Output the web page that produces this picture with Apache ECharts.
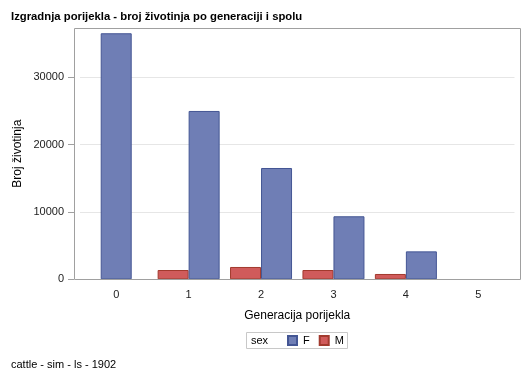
<!DOCTYPE html>
<html>
<head>
<meta charset="utf-8">
<title>Izgradnja porijekla</title>
<script src="https://cdn.jsdelivr.net/npm/echarts@6/dist/echarts.min.js"></script>
<style>
    html,body{margin:0;padding:0;background:#fff;}
    #genChart{width:529px;height:378px;}
</style>
</head>
<body>
<div id="genChart"></div>
<script>
// generacije porijekla i broj grla po spolu
var generacije = ['0', '1', '2', '3', '4', '5'];
var brojF = [36540, 25000, 16530, 9360, 4150, null];
var brojM = [null, 1380, 1830, 1380, 790, null];
var yTicks = [0, 10000, 20000, 30000];

// kad nema muskih grla zensku gredu crtamo na sredini kategorije
var fPar = brojF.map(function (v, i) { return brojM[i] == null ? null : v; });
var fSama = brojF.map(function (v, i) { return brojM[i] == null ? v : null; });

var myChart = echarts.init(document.getElementById('genChart'));
var option = {
    animation: false,
    textStyle: { fontFamily: 'Liberation Sans, Arial, sans-serif' },
    title: [
        {
            text: 'Izgradnja porijekla - broj životinja po generaciji i spolu',
            left: 6, top: 6,
            textStyle: { fontSize: 11.3, fontWeight: 'bold', color: '#000' }
        },
        {
            text: 'cattle - sim - ls - 1902',
            left: 6, top: 354,
            textStyle: { fontSize: 11, fontWeight: 'normal', color: '#000' }
        }
    ],
    legend: {
        data: ['F', 'M'],
        left: 287, top: 335,
        padding: 0,
        icon: 'rect',
        itemWidth: 9, itemHeight: 9,
        itemGap: 9,
        textStyle: { fontSize: 11, color: '#000', padding: [0, 0, 0, 1] }
    },
    grid: {
        left: 80, right: 14.5, top: 28, bottom: 98.7,
        containLabel: false,
        outerBoundsMode: 'none'
    },
    xAxis: [
        {
            type: 'category',
            data: generacije,
            name: 'Generacija porijekla',
            nameLocation: 'middle',
            nameGap: 30,
            nameTextStyle: { fontSize: 12, color: '#000' },
            axisLine: { show: false },
            axisTick: { alignWithLabel: true, length: 6, lineStyle: { color: '#a0a0a0' } },
            axisLabel: { fontSize: 11, color: '#222', margin: 10 }
        },
        {
            type: 'category',
            data: generacije,
            show: false
        }
    ],
    yAxis: {
        type: 'value',
        min: 0,
        max: 37320,
        offset: 6,
        name: 'Broj životinja',
        nameLocation: 'middle',
        nameGap: 50,
        nameMoveOverlap: false,
        nameTextStyle: { fontSize: 12, color: '#000' },
        axisLine: { show: false },
        axisTick: { show: true, length: 6, customValues: yTicks, lineStyle: { color: '#a0a0a0' } },
        axisLabel: {
            fontSize: 11, color: '#222', margin: 10, customValues: yTicks,
            formatter: function (v) { return String(v); }
        },
        splitLine: { show: true, lineStyle: { color: '#e6e6e6' } }
    },
    graphic: [
        {
            type: 'rect',
            z: 100,
            shape: { x: 74.5, y: 28.5, width: 446, height: 251 },
            style: { fill: 'none', stroke: '#a0a0a0', lineWidth: 1 }
        },
        {
            type: 'rect',
            shape: { x: 246.5, y: 332.5, width: 101, height: 16 },
            style: { fill: '#fff', stroke: '#c8c8c8', lineWidth: 1 }
        },
        {
            type: 'text',
            left: 251, top: 335,
            style: { text: 'sex', fontSize: 11, fill: '#000', fontFamily: 'Liberation Sans, Arial, sans-serif' }
        }
    ],
    series: [
        {
            name: 'M',
            type: 'bar',
            data: brojM,
            barWidth: 31,
            barGap: 0,
            itemStyle: { color: '#D05B5B', borderColor: '#A23A2E', borderWidth: 1, borderRadius: 0 }
        },
        {
            name: 'F',
            type: 'bar',
            data: fPar,
            barWidth: 31,
            barGap: 0,
            itemStyle: { color: '#6F7EB5', borderColor: '#445694', borderWidth: 1, borderRadius: 0 }
        },
        {
            name: 'F',
            type: 'bar',
            xAxisIndex: 1,
            data: fSama,
            barWidth: 31,
            itemStyle: { color: '#6F7EB5', borderColor: '#445694', borderWidth: 1, borderRadius: 0 }
        }
    ]
};
myChart.setOption(option);
</script>
</body>
</html>
